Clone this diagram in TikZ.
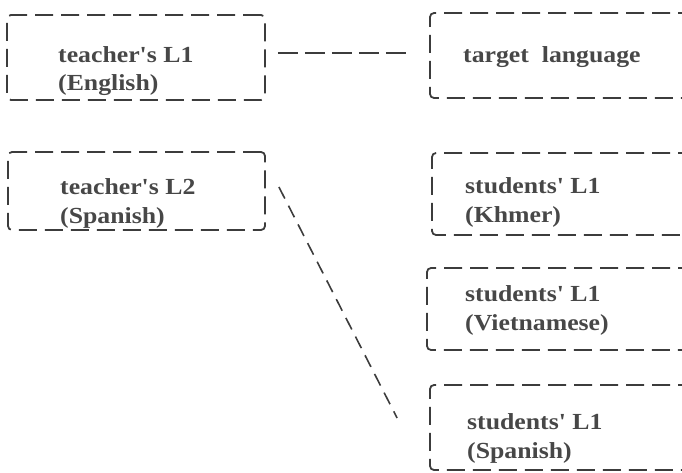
\documentclass[tikz,border=0pt]{standalone}
\usepackage{fontspec}
\usepackage{textcomp}
\newfontfamily\lblfont{Liberation Serif Bold}[FakeStretch=1.12]
\usetikzlibrary{calc}
\definecolor{ink}{HTML}{3C3C3C}
\definecolor{txt}{HTML}{474747}
\newcommand{\ap}{\symbol{39}}
\tikzset{
  box/.style={draw=ink, line width=1.8pt, dash pattern=on 18pt off 8pt, rounded corners=4pt,
    rectangle, inner sep=0pt, minimum width=#1},
  lbl/.style={anchor=base west, inner sep=0pt, text=txt, align=left,
    font=\lblfont\fontsize{23}{28.5}\selectfont},
  conn/.style={draw=ink, line width=1.8pt, dash pattern=on 20pt off 7pt},
  diag/.style={draw=ink, line width=1.6pt, dash pattern=on 13pt off 8pt}
}
\begin{document}
\begin{tikzpicture}[x=1pt,y=-1pt]
\useasboundingbox (0,0) rectangle (682,473);
\clip (0,0) rectangle (682,473);
% boxes
\node[box=258pt, minimum height=85pt] (boxA) at (136,57.5) {};
\node[box=270pt, minimum height=85pt] (boxB) at (565,55.5) {};
\node[box=257pt, minimum height=78pt] (boxC) at (136.5,191) {};
\node[box=268pt, minimum height=82pt] (boxD) at (566,194) {};
\node[box=273pt, minimum height=82pt] (boxE) at (563.5,309) {};
\node[box=270pt, minimum height=85pt] (boxF) at (565,427.5) {};
% labels (anchor = baseline of last line)
\node[lbl] (tA) at (58,91) {teacher\ap s L1\\(English)};
\node[lbl] (tB) at (463,63) {target\ \ language};
\node[lbl] (tC) at (60,223) {teacher\ap s L2\\(Spanish)};
\node[lbl] (tD) at (465,222) {students\ap\ L1\\(Khmer)};
\node[lbl] (tE) at (465,330) {students\ap\ L1\\(Vietnamese)};
\node[lbl] (tF) at (467,458) {students\ap\ L1\\(Spanish)};
% connectors
\draw[conn] ($(boxA.east)+(12,-4.5)$) -- ($(boxB.west)+(-18,-2.5)$);
\draw[diag] ($(boxC.east)+(13,-4)$) -- ($(boxF.west)+(-32,-9.5)$);
\end{tikzpicture}
\end{document}
